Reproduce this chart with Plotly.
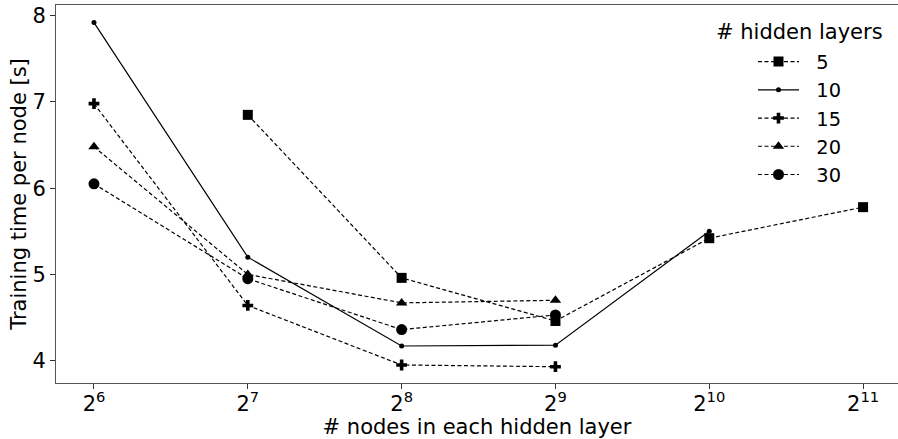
import math
import plotly.graph_objects as go

# nodes per hidden layer (x) and training time per node in seconds (y)
nodes_5 = [128, 256, 512, 1024, 2048]
time_5 = [6.85, 4.96, 4.46, 5.42, 5.78]

nodes_10 = [64, 128, 256, 512, 1024]
time_10 = [7.92, 5.20, 4.17, 4.18, 5.50]

nodes_15 = [64, 128, 256, 512]
time_15 = [6.98, 4.64, 3.95, 3.93]

nodes_20 = [64, 128, 256, 512]
time_20 = [6.48, 5.00, 4.67, 4.70]

nodes_30 = [64, 128, 256, 512]
time_30 = [6.05, 4.95, 4.36, 4.53]

tick_vals = [64, 128, 256, 512, 1024, 2048]
tick_text = ["2<sup>6</sup>", "2<sup>7</sup>", "2<sup>8</sup>",
             "2<sup>9</sup>", "2<sup>10</sup>", "2<sup>11</sup>"]

FONT = "DejaVu Sans"
DASH = "4px,2.5px"
PAD = "\u00a0\u00a0"  # gap between legend line and label

series = [
    ("5", nodes_5, time_5, "square", 10, DASH),
    ("10", nodes_10, time_10, "circle", 5, "solid"),
    ("15", nodes_15, time_15, "cross", 9, DASH),
    ("20", nodes_20, time_20, "triangle-up", 10, DASH),
    ("30", nodes_30, time_30, "circle", 11, DASH),
]

fig = go.Figure()
for name, xs, ys, sym, size, dash in series:
    fig.add_trace(go.Scatter(
        x=xs, y=ys, name=PAD + name, mode="lines+markers",
        line=dict(color="black", width=1.2, dash=dash),
        marker=dict(symbol=sym, size=size, color="black", line=dict(width=0)),
    ))

log2 = math.log10(2)
fig.update_layout(
    width=898, height=439,
    margin=dict(l=56, r=0, t=5, b=56),
    plot_bgcolor="white", paper_bgcolor="white",
    font=dict(family=FONT, size=21, color="black"),
    showlegend=True,
    legend=dict(
        font=dict(size=19.4),
        itemwidth=41,
        x=(753 - 56) / 842, y=1 - (42.5 - 5) / 378,
        xanchor="left", yanchor="top",
        bgcolor="rgba(255,255,255,0)",
        tracegroupgap=0,
    ),
    annotations=[dict(
        text="# hidden layers", xref="paper", yref="paper",
        x=(799 - 56) / 842, y=1 - (31.7 - 5) / 378,
        xanchor="center", yanchor="middle", showarrow=False,
        font=dict(size=21),
    )],
    xaxis=dict(
        type="log",
        range=[5.753 * log2, 11.227 * log2],
        tickvals=tick_vals, ticktext=tick_text,
        ticks="outside", ticklen=5, tickcolor="#333",
        ticklabelstandoff=-3,
        showline=True, linecolor="#555", linewidth=1, mirror=True,
        showgrid=False, zeroline=False, automargin=False,
        title=dict(text="# nodes in each hidden layer", standoff=4,
                   font=dict(size=21)),
    ),
    yaxis=dict(
        range=[3.741, 8.124],
        tickvals=[4, 5, 6, 7, 8],
        ticks="outside", ticklen=5, tickcolor="#333",
        showline=True, linecolor="#555", linewidth=1,
        showgrid=False, zeroline=False, automargin=False,
        title=dict(text="Training time per node [s]", standoff=0,
                   font=dict(size=21)),
    ),
)

fig.write_html("out.html")
